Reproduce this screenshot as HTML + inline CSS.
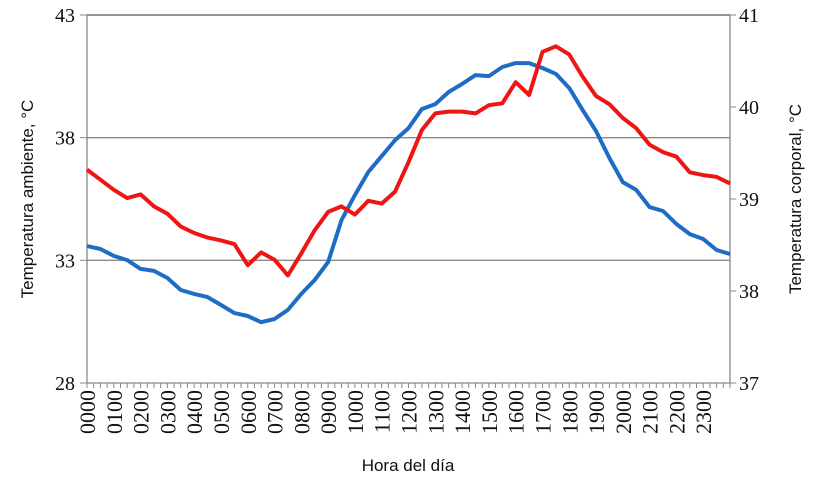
<!DOCTYPE html>
<html><head><meta charset="utf-8"><style>
body{margin:0;background:#fff;}
svg text.num{font-family:"Liberation Serif","DejaVu Serif","Times New Roman",serif;fill:#111;}
</style></head><body>
<svg id="chart" width="820" height="492" viewBox="0 0 820 492" xmlns="http://www.w3.org/2000/svg">
<g id="grid"></g>
<g id="axes"></g>
<g id="series"></g>
<text transform="translate(33,199) rotate(-90)" text-anchor="middle" fill="#111" style="font-family:'Liberation Sans',sans-serif;font-size:17px">Temperatura ambiente, °C</text>
<text transform="translate(801,199) rotate(-90)" text-anchor="middle" fill="#111" style="font-family:'Liberation Sans',sans-serif;font-size:17px">Temperatura corporal, °C</text>
<text x="408" y="471" text-anchor="middle" fill="#111" style="font-family:'Liberation Sans',sans-serif;font-size:17px">Hora del día</text>
</svg>
<script>
const hourLabels=["0000","0100","0200","0300","0400","0500","0600","0700","0800","0900","1000","1100","1200","1300","1400","1500","1600","1700","1800","1900","2000","2100","2200","2300"];
const leftTicks=[28,33,38,43];
const rightTicks=[37,38,39,40,41];
const ambientTemp=[33.58,33.46,33.18,33.01,32.65,32.57,32.28,31.79,31.63,31.50,31.18,30.85,30.73,30.48,30.61,30.98,31.63,32.20,32.93,34.64,35.66,36.60,37.25,37.90,38.39,39.17,39.37,39.86,40.19,40.55,40.51,40.88,41.04,41.04,40.84,40.60,40.02,39.13,38.27,37.17,36.19,35.87,35.17,35.01,34.48,34.07,33.87,33.42,33.26];
const bodyTemp=[39.32,39.21,39.10,39.01,39.05,38.92,38.84,38.70,38.63,38.58,38.55,38.51,38.28,38.42,38.34,38.17,38.41,38.66,38.86,38.92,38.83,38.98,38.95,39.08,39.40,39.75,39.93,39.95,39.95,39.93,40.02,40.04,40.27,40.13,40.60,40.66,40.57,40.33,40.12,40.03,39.88,39.77,39.59,39.51,39.46,39.29,39.26,39.24,39.17];
const NS="http://www.w3.org/2000/svg";
const SERIF='"Liberation Serif","DejaVu Serif","Times New Roman",serif';
const X0=87,X1=730,Y0=383,Y1=15;
const xPos=h=>X0+(X1-X0)*h/24;
const yL=v=>Y0-(v-28)/(43-28)*(Y0-Y1);
const yR=v=>Y0-(v-37)/(41-37)*(Y0-Y1);
function mk(tag,attrs,parent){const e=document.createElementNS(NS,tag);for(const k in attrs)e.setAttribute(k,attrs[k]);parent.appendChild(e);return e;}
const grid=document.getElementById('grid'),axes=document.getElementById('axes'),series=document.getElementById('series');
leftTicks.forEach(v=>{
  if(v>28){const g=mk('line',{x1:X0,x2:X1,y1:yL(v),y2:yL(v),stroke:v===43?'#555':'#8a8a8a','stroke-width':1.3},grid);
  
  }
  mk('line',{x1:X0-7,x2:X0,y1:yL(v),y2:yL(v),stroke:'#888'},axes);
  const t=mk('text',{x:X0-12,y:yL(v)+7,'text-anchor':'end','font-size':20,'class':'num','font-family':SERIF,fill:'#111'},axes);t.textContent=v;
  
  
});
rightTicks.forEach(v=>{
  mk('line',{x1:X1,x2:X1+6,y1:yR(v),y2:yR(v),stroke:'#888'},axes);
  const t=mk('text',{x:X1+9,y:yR(v)+7,'font-size':20,'class':'num','font-family':SERIF,fill:'#111'},axes);t.textContent=v;
  
  
});
mk('line',{x1:X0,x2:X0,y1:Y1,y2:Y0,stroke:'#888','stroke-width':1.3},axes);
mk('line',{x1:X1,x2:X1,y1:Y1,y2:Y0,stroke:'#888','stroke-width':1.3},axes);
mk('line',{x1:X0,x2:X1,y1:Y0,y2:Y0,stroke:'#888','stroke-width':1.3},axes);
for(let i=0;i<=96;i++){mk('line',{x1:xPos(i/4),x2:xPos(i/4),y1:Y0,y2:Y0+5,stroke:'#888'},axes);}
hourLabels.forEach((l,i)=>{
  const x=xPos(i)+8,y=Y0+7;
  const t=mk('text',{transform:`translate(${x},${y}) rotate(-90)`,'text-anchor':'end','font-size':22,'class':'num','font-family':SERIF,fill:'#111'},axes);t.textContent=l;
  
  
});
function line(arr,yf,color,name){
  const step=24/(arr.length-1);
  const d=arr.map((v,i)=>(i?'L':'M')+xPos(i*step).toFixed(1)+' '+yf(v).toFixed(1)).join(' ');
  const p=mk('path',{d:d,fill:'none',stroke:color,'stroke-width':4,'stroke-linejoin':'round'},series);
  
  
}
line(ambientTemp,yL,'#1f6cc4','ambient-temperature-line');
line(bodyTemp,yR,'#ee1515','body-temperature-line');
</script>
</body></html>
